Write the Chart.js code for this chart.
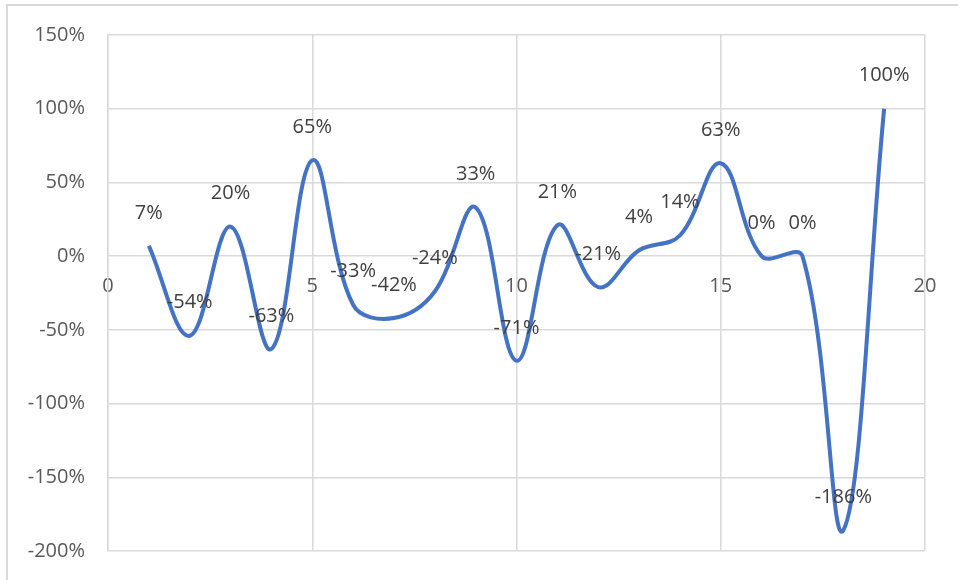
<!DOCTYPE html>
<html>
<head>
<meta charset="utf-8">
<script src="https://cdn.jsdelivr.net/npm/chart.js@4/dist/chart.umd.min.js"></script>
<style>
  html, body { margin: 0; padding: 0; background: #fff; }
  #wrap { position: relative; width: 958px; height: 580px; overflow: hidden; }
  #frame { position: absolute; left: 6px; top: 4px; width: 1000px; height: 700px;
           border-left: 2px solid #d9d9d9; border-top: 2px solid #d9d9d9; box-sizing: border-box; }
  canvas { position: absolute; left: 0; top: 0; }
</style>
</head>
<body>
<div id="wrap">
  <div id="frame"></div>
  <canvas id="chart" width="958" height="580"></canvas>
</div>
<script>
// Period index and percentage change per period
const periods = [1, 2, 3, 4, 5, 6, 7, 8, 9, 10, 11, 12, 13, 14, 15, 16, 17, 18, 19];
const changePct = [7, -54, 20, -63, 65, -33, -42, -24, 33, -71, 21, -21, 4, 14, 63, 0, 0, -186, 100];
const xTicks = [0, 5, 10, 15, 20];
const yTicks = [-200, -150, -100, -50, 0, 50, 100, 150];

const points = periods.map((p, i) => ({ x: p, y: changePct[i] }));
const FONT = "'Open Sans', 'Liberation Sans', sans-serif";

// Value labels drawn above each point
const valueLabels = {
  id: 'valueLabels',
  afterDatasetsDraw(chart) {
    const { ctx } = chart;
    const meta = chart.getDatasetMeta(0);
    ctx.save();
    ctx.font = '20px ' + FONT;
    ctx.fillStyle = '#404040';
    ctx.textAlign = 'center';
    ctx.textBaseline = 'middle';
    meta.data.forEach((el, i) => {
      ctx.fillText(changePct[i] + '%', el.x, el.y - 33);
    });
    ctx.restore();
  }
};

new Chart(document.getElementById('chart'), {
  type: 'line',
  data: {
    datasets: [{
      data: points,
      borderColor: '#4472C4',
      borderWidth: 4,
      pointRadius: 0,
      tension: 0.38,
      fill: false
    }]
  },
  options: {
    responsive: false,
    animation: false,
    layout: { padding: { left: 0, top: 35, right: 33, bottom: 29 } },
    plugins: { legend: { display: false }, tooltip: { enabled: false } },
    scales: {
      x: {
        type: 'linear',
        position: { y: 0 },
        min: 0, max: 20,
        afterBuildTicks(scale) { scale.ticks = xTicks.map(v => ({ value: v })); },
        // the axis sits on the zero line, so it takes no room round the plot
        afterFit(scale) {
          scale.height = 0;
          scale.paddingTop = 0; scale.paddingBottom = 0;
          scale.paddingLeft = 0; scale.paddingRight = 0;
        },
        grid: { color: '#d9d9d9', lineWidth: 1.5, drawTicks: false },
        border: { display: false },
        ticks: { color: '#595959', font: { family: FONT, size: 20 }, padding: 18, maxRotation: 0 }
      },
      y: {
        min: -200, max: 150,
        afterBuildTicks(scale) { scale.ticks = yTicks.map(v => ({ value: v })); },
        afterFit(scale) {
          scale.width = 108;
          scale.paddingTop = 0; scale.paddingBottom = 0;
        },
        grid: { color: '#d9d9d9', lineWidth: 1.5, drawTicks: false },
        border: { color: '#d9d9d9', width: 1.5 },
        ticks: { color: '#595959', font: { family: FONT, size: 20 }, padding: 23,
                 callback: v => v + '%' }
      }
    }
  },
  plugins: [valueLabels]
});
</script>
</body>
</html>
